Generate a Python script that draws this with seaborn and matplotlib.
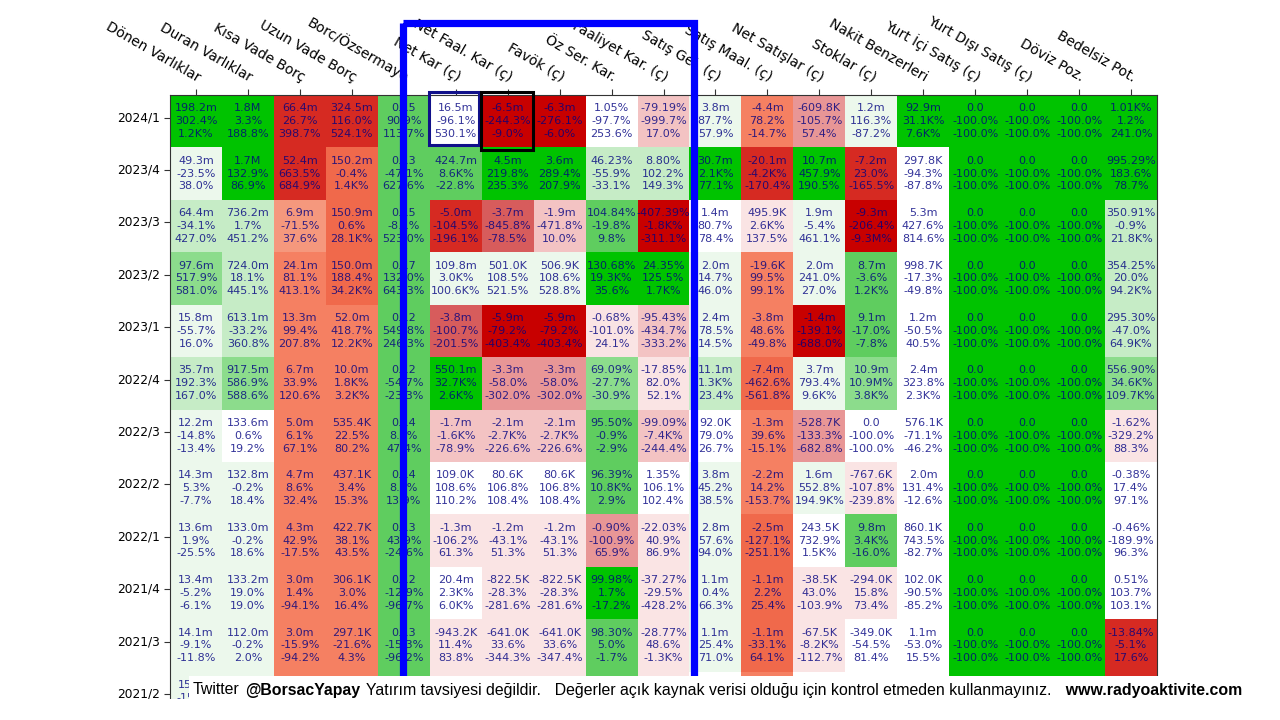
import numpy as np
import pandas as pd
import matplotlib
matplotlib.use('Agg')
import matplotlib.pyplot as plt
import seaborn as sns
from matplotlib.colors import ListedColormap
from matplotlib.patches import Rectangle
from matplotlib.offsetbox import TextArea, HPacker, AnchoredOffsetbox

plt.rcParams['font.family'] = ['DejaVu Sans']

columns = ['Dönen Varlıklar', 'Duran Varlıklar', 'Kısa Vade Borç', 'Uzun Vade Borç',
           'Borc/Özsermaye', 'Net Kar (ç)', 'Net Faal. Kar (ç)', 'Favök (ç)',
           'Öz Ser. Kar.', 'Faaliyet Kar. (ç)', 'Satış Gel. (ç)', 'Satış Maal. (ç)',
           'Net Satışlar (ç)', 'Stoklar (ç)', 'Nakit Benzerleri', 'Yurt İçi Satış (ç)',
           'Yurt Dışı Satış (ç)', 'Döviz Poz.', 'Bedelsiz Pot.']
periods = ['2024/1', '2023/4', '2023/3', '2023/2', '2023/1', '2022/4',
           '2022/3', '2022/2', '2022/1', '2021/4', '2021/3', '2021/2']

Z = ['0.0', '0.0', '0.0']
ZP = ['-100.0%', '-100.0%', '-100.0%']

# first line of each cell: the value
val_txt = [
    ['198.2m', '1.8M', '66.4m', '324.5m', '0.15', '16.5m', '-6.5m', '-6.3m', '1.05%', '-79.19%', '3.8m', '-4.4m', '-609.8K', '1.2m', '92.9m'] + Z + ['1.01K%'],
    ['49.3m', '1.7M', '52.4m', '150.2m', '0.13', '424.7m', '4.5m', '3.6m', '46.23%', '8.80%', '30.7m', '-20.1m', '10.7m', '-7.2m', '297.8K'] + Z + ['995.29%'],
    ['64.4m', '736.2m', '6.9m', '150.9m', '0.15', '-5.0m', '-3.7m', '-1.9m', '104.84%', '-407.39%', '1.4m', '495.9K', '1.9m', '-9.3m', '5.3m'] + Z + ['350.91%'],
    ['97.6m', '724.0m', '24.1m', '150.0m', '0.17', '109.8m', '501.0K', '506.9K', '130.68%', '24.35%', '2.0m', '-19.6K', '2.0m', '8.7m', '998.7K'] + Z + ['354.25%'],
    ['15.8m', '613.1m', '13.3m', '52.0m', '0.12', '-3.8m', '-5.9m', '-5.9m', '-0.68%', '-95.43%', '2.4m', '-3.8m', '-1.4m', '9.1m', '1.2m'] + Z + ['295.30%'],
    ['35.7m', '917.5m', '6.7m', '10.0m', '0.12', '550.1m', '-3.3m', '-3.3m', '69.09%', '-17.85%', '11.1m', '-7.4m', '3.7m', '10.9m', '2.4m'] + Z + ['556.90%'],
    ['12.2m', '133.6m', '5.0m', '535.4K', '0.14', '-1.7m', '-2.1m', '-2.1m', '95.50%', '-99.09%', '92.0K', '-1.3m', '-528.7K', '0.0', '576.1K'] + Z + ['-1.62%'],
    ['14.3m', '132.8m', '4.7m', '437.1K', '0.14', '109.0K', '80.6K', '80.6K', '96.39%', '1.35%', '3.8m', '-2.2m', '1.6m', '-767.6K', '2.0m'] + Z + ['-0.38%'],
    ['13.6m', '133.0m', '4.3m', '422.7K', '0.13', '-1.3m', '-1.2m', '-1.2m', '-0.90%', '-22.03%', '2.8m', '-2.5m', '243.5K', '9.8m', '860.1K'] + Z + ['-0.46%'],
    ['13.4m', '133.2m', '3.0m', '306.1K', '0.12', '20.4m', '-822.5K', '-822.5K', '99.98%', '-37.27%', '1.1m', '-1.1m', '-38.5K', '-294.0K', '102.0K'] + Z + ['0.51%'],
    ['14.1m', '112.0m', '3.0m', '297.1K', '0.13', '-943.2K', '-641.0K', '-641.0K', '98.30%', '-28.77%', '1.1m', '-1.1m', '-67.5K', '-349.0K', '1.1m'] + Z + ['-13.84%'],
    ['15.6m'] + [''] * 18,
]

# second line: quarterly change
qoq_txt = [
    ['302.4%', '3.3%', '26.7%', '116.0%', '90.9%', '-96.1%', '-244.3%', '-276.1%', '-97.7%', '-999.7%', '87.7%', '78.2%', '-105.7%', '116.3%', '31.1K%'] + ZP + ['1.2%'],
    ['-23.5%', '132.9%', '663.5%', '-0.4%', '-47.1%', '8.6K%', '219.8%', '289.4%', '-55.9%', '102.2%', '2.1K%', '-4.2K%', '457.9%', '23.0%', '-94.3%'] + ZP + ['183.6%'],
    ['-34.1%', '1.7%', '-71.5%', '0.6%', '-8.1%', '-104.5%', '-845.8%', '-471.8%', '-19.8%', '-1.8K%', '80.7%', '2.6K%', '-5.4%', '-206.4%', '427.6%'] + ZP + ['-0.9%'],
    ['517.9%', '18.1%', '81.1%', '188.4%', '132.0%', '3.0K%', '108.5%', '108.6%', '19.3K%', '125.5%', '14.7%', '99.5%', '241.0%', '-3.6%', '-17.3%'] + ZP + ['20.0%'],
    ['-55.7%', '-33.2%', '99.4%', '418.7%', '549.8%', '-100.7%', '-79.2%', '-79.2%', '-101.0%', '-434.7%', '78.5%', '48.6%', '-139.1%', '-17.0%', '-50.5%'] + ZP + ['-47.0%'],
    ['192.3%', '586.9%', '33.9%', '1.8K%', '-54.7%', '32.7K%', '-58.0%', '-58.0%', '-27.7%', '82.0%', '1.3K%', '-462.6%', '793.4%', '10.9M%', '323.8%'] + ZP + ['34.6K%'],
    ['-14.8%', '0.6%', '6.1%', '22.5%', '8.1%', '-1.6K%', '-2.7K%', '-2.7K%', '-0.9%', '-7.4K%', '79.0%', '39.6%', '-133.3%', '-100.0%', '-71.1%'] + ZP + ['-329.2%'],
    ['5.3%', '-0.2%', '8.6%', '3.4%', '8.1%', '108.6%', '106.8%', '106.8%', '10.8K%', '106.1%', '45.2%', '14.2%', '552.8%', '-107.8%', '131.4%'] + ZP + ['17.4%'],
    ['1.9%', '-0.2%', '42.9%', '38.1%', '43.9%', '-106.2%', '-43.1%', '-43.1%', '-100.9%', '40.9%', '57.6%', '-127.1%', '732.9%', '3.4K%', '743.5%'] + ZP + ['-189.9%'],
    ['-5.2%', '19.0%', '1.4%', '3.0%', '-12.9%', '2.3K%', '-28.3%', '-28.3%', '1.7%', '-29.5%', '0.4%', '2.2%', '43.0%', '15.8%', '-90.5%'] + ZP + ['103.7%'],
    ['-9.1%', '-0.2%', '-15.9%', '-21.6%', '-15.3%', '11.4%', '33.6%', '33.6%', '5.0%', '48.6%', '25.4%', '-33.1%', '-8.2K%', '-54.5%', '-53.0%'] + ZP + ['-5.1%'],
    ['-15.1%'] + [''] * 18,
]

# third line: yearly change
yoy_txt = [
    ['1.2K%', '188.8%', '398.7%', '524.1%', '113.7%', '530.1%', '-9.0%', '-6.0%', '253.6%', '17.0%', '57.9%', '-14.7%', '57.4%', '-87.2%', '7.6K%'] + ZP + ['241.0%'],
    ['38.0%', '86.9%', '684.9%', '1.4K%', '627.6%', '-22.8%', '235.3%', '207.9%', '-33.1%', '149.3%', '77.1%', '-170.4%', '190.5%', '-165.5%', '-87.8%'] + ZP + ['78.7%'],
    ['427.0%', '451.2%', '37.6%', '28.1K%', '523.0%', '-196.1%', '-78.5%', '10.0%', '9.8%', '-311.1%', '78.4%', '137.5%', '461.1%', '-9.3M%', '814.6%'] + ZP + ['21.8K%'],
    ['581.0%', '445.1%', '413.1%', '34.2K%', '643.3%', '100.6K%', '521.5%', '528.8%', '35.6%', '1.7K%', '46.0%', '99.1%', '27.0%', '1.2K%', '-49.8%'] + ZP + ['94.2K%'],
    ['16.0%', '360.8%', '207.8%', '12.2K%', '246.3%', '-201.5%', '-403.4%', '-403.4%', '24.1%', '-333.2%', '14.5%', '-49.8%', '-688.0%', '-7.8%', '40.5%'] + ZP + ['64.9K%'],
    ['167.0%', '588.6%', '120.6%', '3.2K%', '-23.3%', '2.6K%', '-302.0%', '-302.0%', '-30.9%', '52.1%', '23.4%', '-561.8%', '9.6K%', '3.8K%', '2.3K%'] + ZP + ['109.7K%'],
    ['-13.4%', '19.2%', '67.1%', '80.2%', '47.4%', '-78.9%', '-226.6%', '-226.6%', '-2.9%', '-244.4%', '26.7%', '-15.1%', '-682.8%', '-100.0%', '-46.2%'] + ZP + ['88.3%'],
    ['-7.7%', '18.4%', '32.4%', '15.3%', '13.9%', '110.2%', '108.4%', '108.4%', '2.9%', '102.4%', '38.5%', '-153.7%', '194.9K%', '-239.8%', '-12.6%'] + ZP + ['97.1%'],
    ['-25.5%', '18.6%', '-17.5%', '43.5%', '-24.6%', '61.3%', '51.3%', '51.3%', '65.9%', '86.9%', '94.0%', '-251.1%', '1.5K%', '-16.0%', '-82.7%'] + ZP + ['96.3%'],
    ['-6.1%', '19.0%', '-94.1%', '16.4%', '-96.7%', '6.0K%', '-281.6%', '-281.6%', '-17.2%', '-428.2%', '66.3%', '25.4%', '-103.9%', '73.4%', '-85.2%'] + ZP + ['103.1%'],
    ['-11.8%', '2.0%', '-94.2%', '4.3%', '-96.2%', '83.8%', '-344.3%', '-347.4%', '-1.7%', '-1.3K%', '71.0%', '64.1%', '-112.7%', '81.4%', '15.5%'] + ZP + ['17.6%'],
    [''] * 19,
]

# colour level of every cell (0 = dark red ... 9 = white ... 14 = bright green)
palette = ['#c80000', '#d62a22', '#f0694b', '#f58062', '#f5987d', '#d75c5c', '#e89696',
           '#f3c3c3', '#fae4e4', '#ffffff', '#ecf8ec', '#c6ecc6', '#8cdc8c', '#5fcd5f', '#00c300']
level = [
    [14, 14, 1, 1, 13, 9, 0, 0, 9, 7, 10, 3, 6, 10, 14, 14, 14, 14, 14],
    [10, 14, 1, 2, 13, 13, 14, 14, 11, 11, 14, 1, 14, 1, 9, 14, 14, 14, 14],
    [11, 11, 4, 2, 13, 1, 5, 7, 13, 0, 9, 8, 10, 0, 9, 14, 14, 14, 11],
    [12, 11, 3, 2, 13, 10, 10, 10, 14, 14, 10, 3, 10, 13, 9, 14, 14, 14, 11],
    [10, 11, 3, 3, 13, 5, 0, 0, 8, 7, 10, 3, 0, 13, 9, 14, 14, 14, 11],
    [11, 12, 3, 3, 13, 14, 6, 6, 12, 8, 11, 2, 10, 12, 9, 14, 14, 14, 12],
    [10, 9, 3, 3, 13, 7, 7, 7, 13, 7, 9, 3, 6, 9, 9, 14, 14, 14, 8],
    [10, 10, 3, 3, 13, 9, 9, 9, 13, 9, 10, 3, 10, 8, 9, 14, 14, 14, 9],
    [10, 10, 3, 3, 13, 8, 8, 8, 6, 8, 10, 2, 9, 13, 9, 14, 14, 14, 9],
    [10, 10, 3, 3, 13, 9, 8, 8, 14, 8, 10, 2, 8, 8, 9, 14, 14, 14, 9],
    [10, 10, 3, 3, 13, 8, 8, 8, 13, 8, 10, 2, 8, 9, 9, 14, 14, 14, 1],
    [10, 10, 3, 3, 13, 8, 8, 8, 13, 8, 9, 3, 9, 9, 9, 14, 14, 14, 1],
]

df = pd.DataFrame(level, index=periods, columns=columns)
annot = np.array([['\n'.join(t) for t in zip(a, b, c)]
                  for a, b, c in zip(val_txt, qoq_txt, yoy_txt)])

fig = plt.figure(figsize=(12.8, 7.2), dpi=100)
ax = fig.add_axes([170 / 1280, (720 - 724) / 720, 987 / 1280, 629 / 720])

sns.heatmap(df, cmap=ListedColormap(palette), vmin=-0.5, vmax=len(palette) - 0.5,
            annot=annot, fmt='', cbar=False, ax=ax,
            annot_kws=dict(fontsize=8, color='#000080', alpha=0.8, linespacing=1.35))

ax.xaxis.tick_top()
ax.set_xticklabels(columns, rotation=-30, ha='right', rotation_mode='anchor', fontsize=10)
ax.set_yticks(np.arange(len(periods)) + 0.43)
ax.set_yticklabels(periods, rotation=0, fontsize=8.8)
ax.tick_params(axis='both', length=4, width=0.8, color='#333333')
for s in ax.spines.values():
    s.set_visible(True)
    s.set_linewidth(0.8)
    s.set_color('#333333')

# highlight boxes
ax.add_patch(Rectangle((4.49, -1.365), 5.59, 14, fill=False, ec='#0000ff', lw=5.2,
                       clip_on=False, zorder=5))
ax.add_patch(Rectangle((4.995, -0.05), 0.945, 1.01, fill=False, ec='#10108a', lw=2.2,
                       clip_on=False, zorder=6))
ax.add_patch(Rectangle((5.996, -0.05), 1.0, 1.09, fill=False, ec='black', lw=2.2,
                       clip_on=False, zorder=6))

# cropped bottom and the note strip
fig.add_artist(Rectangle((0, 0), 1, 21 / 720, transform=fig.transFigure,
                         fc='white', ec='none', zorder=10))
fig.add_artist(Rectangle((189 / 1280, 21 / 720), 1, 23 / 720, transform=fig.transFigure,
                         fc='white', ec='none', zorder=10))

tp = dict(fontfamily='Liberation Sans', fontsize=11.4, color='black')
tb = dict(tp, fontweight='bold')
note = HPacker(children=[TextArea('Twitter', textprops=tp),
                         TextArea('@BorsacYapay', textprops=tb),
                         TextArea('Yatırım tavsiyesi değildir.', textprops=tp),
                         TextArea('  Değerler açık kaynak verisi olduğu için kontrol etmeden kullanmayınız.', textprops=tp),
                         TextArea('  www.radyoaktivite.com', textprops=tb)],
               sep=4, pad=0, align='baseline')
box = AnchoredOffsetbox(loc='center left', child=note, pad=0, borderpad=0, frameon=False,
                        bbox_to_anchor=(193 / 1280, 30 / 720), bbox_transform=fig.transFigure)
box.set_zorder(11)
fig.add_artist(box)

fig.savefig('out.png', dpi=100)
